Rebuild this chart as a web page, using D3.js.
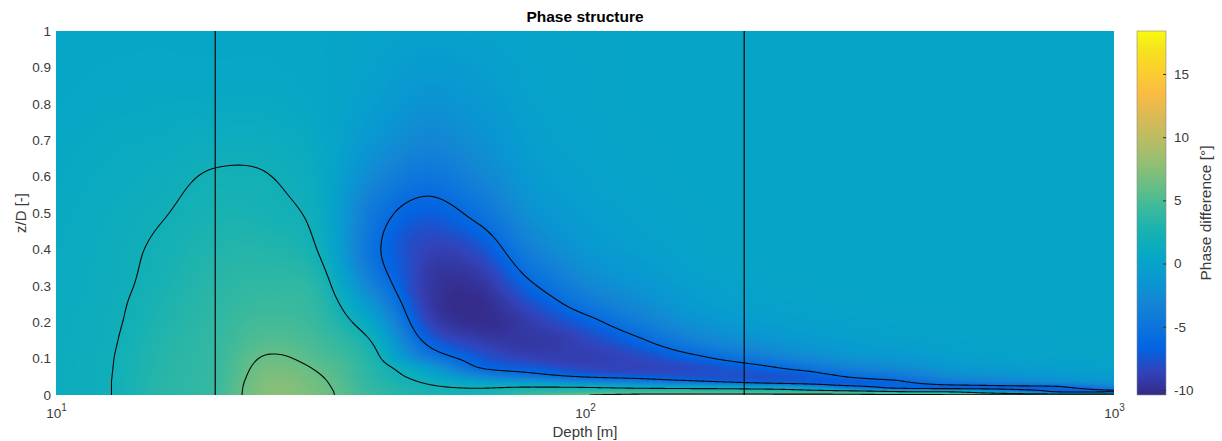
<!DOCTYPE html>
<html>
<head>
<meta charset="utf-8">
<script src="https://cdn.jsdelivr.net/npm/d3@7"></script>
<style>
  body { margin: 0; background: #fff; }
  text { font-family: "Liberation Sans", Arial, Helvetica, sans-serif; }
</style>
</head>
<body>
<div id="chart"></div>
<script>
// ---- data ----
const depths = [10, 12.6, 15.8, 20, 25.1, 31.6, 39.8, 50.1, 63.1, 79.4, 100,
                126, 158, 200, 251, 316, 398, 501, 631, 794, 1000];
const zRows = [0, 0.01, 0.02, 0.035, 0.05, 0.075, 0.1, 0.15, 0.2, 0.25, 0.3, 0.4, 0.5, 0.6, 0.7, 0.8, 1.0];
// one column of phase difference (deg) per depth, going up through zRows
const phaseByDepth = [
  [1.3, 1.3, 1.3, 1.3, 1.3, 1.3, 1.3, 1.25, 1.2, 1.15, 1.1, 1.0, 0.9, 0.8, 0.7, 0.6, 0.5],
  [1.95, 1.95, 1.95, 1.95, 1.94, 1.92, 1.9, 1.82, 1.75, 1.68, 1.6, 1.5, 1.35, 1.15, 0.95, 0.75, 0.55],
  [3.4, 3.4, 3.4, 3.38, 3.35, 3.3, 3.25, 3.1, 2.85, 2.7, 2.5, 2.25, 1.9, 1.55, 1.1, 0.85, 0.55],
  [4.3, 4.3, 4.28, 4.25, 4.2, 4.15, 4.1, 4.0, 3.85, 3.65, 3.45, 3.0, 2.55, 2.15, 1.45, 0.9, 0.5],
  [7.4, 7.35, 7.3, 7.15, 6.95, 6.6, 6.2, 5.3, 4.7, 4.2, 3.8, 3.1, 2.4, 2.05, 1.4, 0.9, 0.5],
  [6.6, 6.55, 6.45, 6.3, 6.1, 5.7, 5.2, 4.5, 3.9, 3.5, 3.0, 1.75, 1.2, 0.9, 0.7, 0.5, 0.4],
  [4.0, 3.95, 3.85, 3.6, 3.4, 3.2, 2.75, 1.7, 0.0, -1.8, -3.6, -5.3, -4.6, -2.8, -1.4, -0.6, 0.1],
  [2.8, 2.6, 2.4, 1.8, 1.0, -0.6, -3.5, -6.5, -8.2, -9.0, -9.2, -8.6, -7.0, -4.8, -3.0, -1.8, -0.2],
  [2.6, 2.3, 1.9, 0.0, -2.6, -6.0, -7.2, -9.0, -10.1, -10.2, -9.7, -7.8, -5.2, -3.2, -2.0, -1.2, -0.1],
  [4.5, 3.4, 2.3, -1.0, -4.5, -7.2, -8.6, -9.4, -9.0, -7.8, -6.3, -3.6, -1.9, -1.0, -0.5, -0.2, 0.1],
  [5.9, 3.8, 2.2, -2.5, -6.1, -8.4, -8.9, -8.5, -6.9, -4.8, -3.2, -1.4, -0.6, -0.2, 0.0, 0.1, 0.2],
  [6.6, 4.2, 1.6, -3.5, -6.8, -8.6, -8.3, -6.4, -4.2, -2.6, -1.6, -0.5, -0.1, 0.1, 0.2, 0.3, 0.3],
  [6.8, 4.0, 1.3, -4.8, -7.6, -8.1, -6.8, -3.8, -2.0, -1.0, -0.5, 0.0, 0.2, 0.3, 0.3, 0.3, 0.3],
  [6.8, 3.8, 1.0, -6.2, -7.8, -7.0, -5.0, -2.2, -0.9, -0.3, 0.0, 0.3, 0.3, 0.3, 0.3, 0.3, 0.3],
  [6.8, 3.5, 0.0, -7.0, -7.4, -5.4, -3.3, -1.2, -0.4, 0.0, 0.2, 0.3, 0.3, 0.3, 0.3, 0.3, 0.3],
  [6.7, 3.0, -4.5, -7.0, -5.9, -3.6, -1.9, -0.6, -0.1, 0.2, 0.3, 0.3, 0.3, 0.3, 0.3, 0.3, 0.3],
  [6.6, 1.5, -6.5, -6.2, -4.6, -2.6, -1.3, -0.3, 0.1, 0.3, 0.3, 0.3, 0.3, 0.3, 0.3, 0.3, 0.3],
  [6.4, 1.0, -7.0, -4.5, -2.8, -1.3, -0.5, 0.0, 0.2, 0.3, 0.3, 0.3, 0.3, 0.3, 0.3, 0.3, 0.3],
  [6.3, -3.0, -6.8, -3.5, -2.0, -0.8, -0.2, 0.1, 0.3, 0.3, 0.3, 0.3, 0.3, 0.3, 0.3, 0.3, 0.3],
  [6.2, -6.6, -6.4, -2.5, -1.3, -0.4, 0.0, 0.2, 0.3, 0.3, 0.3, 0.3, 0.3, 0.3, 0.3, 0.3, 0.3],
  [6.0, -6.4, -4.0, -1.6, -0.8, -0.2, 0.1, 0.3, 0.3, 0.3, 0.3, 0.3, 0.3, 0.3, 0.3, 0.3, 0.3]
];
const contourLevels = [-6, 2, 6];
const markerDepths = [20, 200];
const xTicks = [10, 100, 1000];
const yTicks = [0, 0.1, 0.2, 0.3, 0.4, 0.5, 0.6, 0.7, 0.8, 0.9, 1];
const cTicks = [-10, -5, 0, 5, 10, 15];
const colorRange = [-10.4, 18.4];

// parula colormap
const parulaStops = [0, 4, 8, 12, 16, 20, 24, 28, 32, 36, 40, 44, 48, 52, 56, 60, 63].map(k => k / 63);
const parula = ["#352a87", "#3243ba", "#0363e1", "#0d75dc", "#1485d4", "#0998d1", "#06a7c6", "#15b1b4",
                "#38b99e", "#65be86", "#92bf73", "#b7bd64", "#d9ba56", "#f8bb44", "#fcce2e", "#f5e41d", "#f9fb0e"];

const W = 1222, H = 441;
const plot = { left: 56, top: 31, right: 1114, bottom: 395 };
const cbar = { left: 1137, right: 1166 };
const inkColor = "#3a3a3a";

const x = d3.scaleLog().domain([10, 1000]).range([plot.left, plot.right]);
const y = d3.scaleLinear().domain([0, 1]).range([plot.bottom, plot.top]);
const cScale = d3.scaleLinear().domain(colorRange).range([plot.bottom, plot.top]);
const parulaScale = d3.scaleLinear().domain(parulaStops).range(parula).interpolate(d3.interpolateRgb);

// lookup table for the image
const LUT_N = 1024;
const lut = d3.range(LUT_N).map(i => {
  const c = d3.rgb(parulaScale(i / (LUT_N - 1)));
  return [c.r, c.g, c.b];
});
function colorOf(v) {
  let t = (v - colorRange[0]) / (colorRange[1] - colorRange[0]);
  t = Math.max(0, Math.min(1, t));
  return lut[Math.round(t * (LUT_N - 1))];
}

// cubic between the read values; monotone=true uses the d3.curveMonotoneX slope rule
function cubicSlopes(xs, ys, monotone) {
  const n = xs.length, m = new Array(n), d = [];
  for (let i = 0; i < n - 1; i++) d.push((ys[i + 1] - ys[i]) / (xs[i + 1] - xs[i]));
  m[0] = d[0];
  m[n - 1] = d[n - 2];
  for (let i = 1; i < n - 1; i++) {
    const h0 = xs[i] - xs[i - 1], h1 = xs[i + 1] - xs[i], s0 = d[i - 1], s1 = d[i];
    const p = (s0 * h1 + s1 * h0) / (h0 + h1);
    m[i] = monotone
      ? (Math.sign(s0) + Math.sign(s1)) * Math.min(Math.abs(s0), Math.abs(s1), 0.5 * Math.abs(p)) || 0
      : p;
  }
  return m;
}
function hermite(xs, ys, ms, xv) {
  const n = xs.length;
  if (xv <= xs[0]) return ys[0];
  if (xv >= xs[n - 1]) return ys[n - 1];
  let i = Math.min(n - 2, d3.bisectRight(xs, xv) - 1);
  const h = xs[i + 1] - xs[i], t = (xv - xs[i]) / h, t2 = t * t, t3 = t2 * t;
  return (2 * t3 - 3 * t2 + 1) * ys[i] + (t3 - 2 * t2 + t) * h * ms[i]
       + (-2 * t3 + 3 * t2) * ys[i + 1] + (t3 - t2) * h * ms[i + 1];
}

const logD = depths.map(Math.log10);
const rowsAlongDepth = zRows.map((_, r) => phaseByDepth.map(col => col[r]));
const rowSlopes = rowsAlongDepth.map(row => cubicSlopes(logD, row, false));

function columnAt(depth) {
  const u = Math.log10(depth);
  const vals = rowsAlongDepth.map((row, r) => hermite(logD, row, rowSlopes[r], u));
  return { vals, slopes: cubicSlopes(zRows, vals, true) };
}
function valueAt(col, z) {
  return hermite(zRows, col.vals, col.slopes, z);
}

// ---- svg ----
const svg = d3.select("#chart").append("svg")
  .attr("width", W)
  .attr("height", H);

svg.append("rect").attr("width", W).attr("height", H).attr("fill", "#fff");

const defs = svg.append("defs");
defs.append("clipPath").attr("id", "plotClip")
  .append("rect")
  .attr("x", plot.left).attr("y", plot.top)
  .attr("width", plot.right - plot.left).attr("height", plot.bottom - plot.top);

const grad = defs.append("linearGradient")
  .attr("id", "parulaGrad")
  .attr("x1", 0).attr("y1", 1).attr("x2", 0).attr("y2", 0);
grad.selectAll("stop")
  .data(parula)
  .join("stop")
  .attr("offset", (d, i) => parulaStops[i])
  .attr("stop-color", d => d);

// Heatmap image
const pw = plot.right - plot.left, ph = plot.bottom - plot.top;
const canvas = document.createElement("canvas");
canvas.width = pw;
canvas.height = ph;
const ctx = canvas.getContext("2d");
const img = ctx.createImageData(pw, ph);
for (let i = 0; i < pw; i++) {
  const col = columnAt(x.invert(plot.left + i + 0.5));
  for (let j = 0; j < ph; j++) {
    const c = colorOf(valueAt(col, y.invert(plot.top + j + 0.5)));
    const k = (j * pw + i) * 4;
    img.data[k] = c[0];
    img.data[k + 1] = c[1];
    img.data[k + 2] = c[2];
    img.data[k + 3] = 255;
  }
}
ctx.putImageData(img, 0, 0);

svg.append("image")
  .attr("x", plot.left).attr("y", plot.top)
  .attr("width", pw).attr("height", ph)
  .attr("preserveAspectRatio", "none")
  .attr("href", canvas.toDataURL());

// Contours (grid padded past the plot so the edge rings fall outside the clip)
const gdx = 2, gdy = 0.5, pad = 6;
const gnx = Math.round(pw / gdx) + 1 + 2 * pad;
const gny = Math.round(ph / gdy) + 1 + 2 * pad;
const grid = new Float64Array(gnx * gny);
for (let i = 0; i < gnx; i++) {
  const col = columnAt(x.invert(plot.left + (i - pad) * gdx));
  for (let j = 0; j < gny; j++) {
    grid[j * gnx + i] = valueAt(col, y.invert(plot.top + (j - pad) * gdy));
  }
}
const contours = d3.contours().size([gnx, gny]).thresholds(contourLevels)(grid);
const toPlot = d3.geoTransform({
  point: function(cx, cy) {
    this.stream.point(plot.left + (cx - 0.5 - pad) * gdx, plot.top + (cy - 0.5 - pad) * gdy);
  }
});
const contourPath = d3.geoPath(toPlot);

const plotG = svg.append("g").attr("clip-path", "url(#plotClip)");

plotG.selectAll(".contour")
  .data(contours)
  .join("path")
  .attr("class", "contour")
  .attr("d", contourPath)
  .attr("fill", "none")
  .attr("stroke", "#0a0a0a")
  .attr("stroke-width", 1.1);

// Vertical marker lines
plotG.selectAll(".marker")
  .data(markerDepths)
  .join("line")
  .attr("class", "marker")
  .attr("x1", d => x(d)).attr("x2", d => x(d))
  .attr("y1", plot.top).attr("y2", plot.bottom)
  .attr("stroke", "#111")
  .attr("stroke-width", 1.3);

// Eje Y
const yAxis = svg.append("g")
  .attr("transform", `translate(${plot.left},0)`)
  .call(d3.axisLeft(y).tickValues(yTicks).tickSize(0).tickPadding(5).tickFormat(d => String(d)));
yAxis.select(".domain").remove();
yAxis.selectAll("text")
  .attr("fill", inkColor)
  .style("font-size", "13.5px");

// Eje X (labels as 10^n)
const xAxis = svg.append("g")
  .attr("transform", `translate(0,${plot.bottom})`)
  .call(d3.axisBottom(x).tickValues(xTicks).tickSize(0).tickFormat(""));
xAxis.select(".domain").remove();
xAxis.selectAll(".tick").each(function(d) {
  const t = d3.select(this).append("text")
    .attr("y", 23)
    .attr("fill", inkColor)
    .attr("text-anchor", "middle")
    .style("font-size", "13.5px");
  t.append("tspan").text("10");
  t.append("tspan").attr("dy", -7).style("font-size", "10px").text(Math.round(Math.log10(d)));
});

// Titles
svg.append("text")
  .attr("x", (plot.left + plot.right) / 2)
  .attr("y", 22)
  .attr("text-anchor", "middle")
  .attr("fill", "#000")
  .style("font-size", "15.5px")
  .style("font-weight", "bold")
  .text("Phase structure");

svg.append("text")
  .attr("x", (plot.left + plot.right) / 2)
  .attr("y", 437)
  .attr("text-anchor", "middle")
  .attr("fill", inkColor)
  .style("font-size", "15px")
  .text("Depth [m]");

svg.append("text")
  .attr("transform", `translate(26,${(plot.top + plot.bottom) / 2}) rotate(-90)`)
  .attr("text-anchor", "middle")
  .attr("fill", inkColor)
  .style("font-size", "15px")
  .text("z/D [-]");

// Colorbar
svg.append("rect")
  .attr("x", cbar.left).attr("y", plot.top)
  .attr("width", cbar.right - cbar.left).attr("height", plot.bottom - plot.top)
  .attr("fill", "url(#parulaGrad)")
  .attr("stroke", "#8a8a8a")
  .attr("stroke-width", 0.6);

const cAxis = svg.append("g")
  .attr("transform", `translate(${cbar.right},0)`)
  .call(d3.axisRight(cScale).tickValues(cTicks).tickSize(-3).tickPadding(8).tickFormat(d => String(d)));
cAxis.select(".domain").remove();
cAxis.selectAll("line").attr("stroke", "#333");
cAxis.selectAll("text")
  .attr("fill", inkColor)
  .style("font-size", "13.5px");

svg.append("text")
  .attr("transform", `translate(1211,${(plot.top + plot.bottom) / 2}) rotate(-90)`)
  .attr("text-anchor", "middle")
  .attr("fill", inkColor)
  .style("font-size", "15.5px")
  .text("Phase difference [°]");
</script>
</body>
</html>
